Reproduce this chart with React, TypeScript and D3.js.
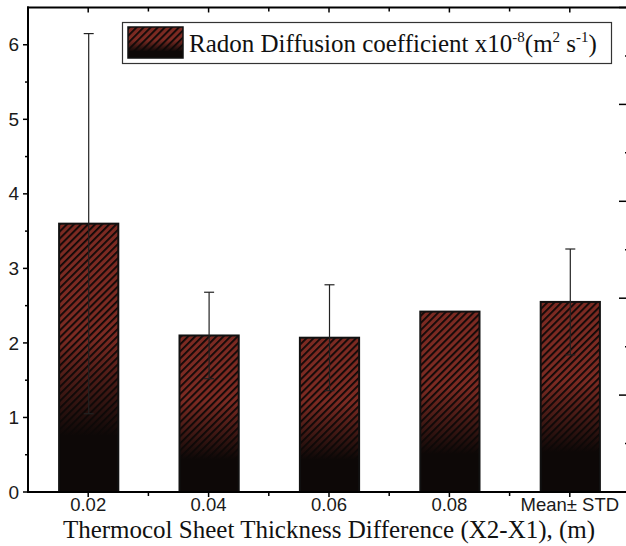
import React, { useEffect, useRef } from 'react';
import * as d3 from 'd3';

// Radon diffusion coefficient by thermocol sheet thickness difference
const categories = ['0.02', '0.04', '0.06', '0.08', 'Mean\u00b1 STD'];
const diffusion = [3.6, 2.1, 2.07, 2.42, 2.55];
const errors: Array<number | null> = [2.55, 0.58, 0.71, null, 0.71];
const leftTicks = [0, 1, 2, 3, 4, 5, 6];

const W = 626;
const H = 546;
const LEFT = 28;
const RIGHT = 630;
const TOP = 7.5;
const BOTTOM = 492;

const RED = '#7c2a22';
const DARK = '#0d0807';

const App: React.FC = () => {
  const svgRef = useRef<SVGSVGElement>(null);

  useEffect(() => {
    if (!svgRef.current) return;
    const svg = d3.select(svgRef.current);
    svg.selectAll('*').remove();

    const x = d3.scaleBand<string>().domain(categories).range([LEFT, RIGHT]).paddingInner(0.5).paddingOuter(0.25);
    const y = d3.scaleLinear().domain([0, 6.5]).range([BOTTOM, TOP]);
    const yR = d3.scaleLinear().domain([0, 5]).range([BOTTOM, TOP]);

    const defs = svg.append('defs');
    const pat = defs
      .append('pattern')
      .attr('id', 'hatch')
      .attr('patternUnits', 'userSpaceOnUse')
      .attr('width', 5)
      .attr('height', 5)
      .attr('patternTransform', 'rotate(45)');
    pat.append('rect').attr('width', 5).attr('height', 5).attr('fill', RED);
    pat.append('rect').attr('width', 1.8).attr('height', 5).attr('fill', DARK);

    const grad = defs
      .append('linearGradient')
      .attr('id', 'fade')
      .attr('x1', 0)
      .attr('y1', 0)
      .attr('x2', 0)
      .attr('y2', 1);
    [
      [0, 0],
      [0.42, 0],
      [0.79, 1],
      [1, 1],
    ].forEach(([o, a]) => grad.append('stop').attr('offset', o).attr('stop-color', DARK).attr('stop-opacity', a));

    // bars
    const bars = svg.append('g');
    categories.forEach((c, i) => {
      const bx = x(c)! + 1;
      const bw = x.bandwidth() - 1;
      const by = y(diffusion[i]);
      const bh = BOTTOM - by;
      bars.append('rect').attr('x', bx).attr('y', by).attr('width', bw).attr('height', bh).attr('fill', 'url(#hatch)');
      bars.append('rect').attr('x', bx).attr('y', by).attr('width', bw).attr('height', bh).attr('fill', 'url(#fade)');
      bars
        .append('rect')
        .attr('x', bx)
        .attr('y', by)
        .attr('width', bw)
        .attr('height', bh)
        .attr('fill', 'none')
        .attr('stroke', '#111')
        .attr('stroke-width', 2);
    });

    // error bars
    const eb = svg.append('g').attr('stroke', '#222').attr('stroke-width', 1.2);
    categories.forEach((c, i) => {
      const e = errors[i];
      if (e == null) return;
      const cx = x(c)! + x.bandwidth() / 2 + 0.5;
      const lo = y(diffusion[i] - e);
      const hi = y(diffusion[i] + e);
      eb.append('line').attr('x1', cx).attr('x2', cx).attr('y1', lo).attr('y2', hi);
      [lo, hi].forEach((v) => eb.append('line').attr('x1', cx - 5).attr('x2', cx + 5).attr('y1', v).attr('y2', v));
    });

    // frame
    const frame = svg.append('g').attr('stroke', '#000').attr('stroke-width', 2).attr('fill', 'none');
    frame.append('line').attr('x1', LEFT).attr('x2', LEFT).attr('y1', TOP - 1).attr('y2', BOTTOM + 1);
    frame.append('line').attr('x1', LEFT - 1).attr('x2', W).attr('y1', TOP).attr('y2', TOP);
    frame.append('line').attr('x1', LEFT - 1).attr('x2', W).attr('y1', BOTTOM).attr('y2', BOTTOM);
    frame.append('line').attr('x1', RIGHT).attr('x2', RIGHT).attr('y1', TOP).attr('y2', BOTTOM);

    // left axis ticks (outward) with minor
    const ticks = svg.append('g').attr('stroke', '#000').attr('stroke-width', 1.5);
    d3.range(0, 6.01, 0.5).forEach((v) => {
      const major = Number.isInteger(v);
      ticks
        .append('line')
        .attr('x1', LEFT - (major ? 5 : 3))
        .attr('x2', LEFT)
        .attr('y1', y(v))
        .attr('y2', y(v));
    });
    // right axis ticks (inward)
    d3.range(0.5, 5.01, 0.5).forEach((v) => {
      const major = Number.isInteger(v);
      ticks
        .append('line')
        .attr('x1', RIGHT - (major ? 11 : 5))
        .attr('x2', RIGHT)
        .attr('y1', yR(v))
        .attr('y2', yR(v));
    });
    // x ticks: major at centres, minor at band edges
    const step = x.step();
    categories.forEach((c) => {
      const cx = x(c)! + x.bandwidth() / 2;
      ticks.append('line').attr('x1', cx).attr('x2', cx).attr('y1', BOTTOM).attr('y2', BOTTOM + 5);
      ticks.append('line').attr('x1', cx).attr('x2', cx).attr('y1', TOP).attr('y2', TOP + 5);
      const ex = cx + step / 2;
      if (ex < W) {
        ticks.append('line').attr('x1', ex).attr('x2', ex).attr('y1', BOTTOM).attr('y2', BOTTOM + 4);
        ticks.append('line').attr('x1', ex).attr('x2', ex).attr('y1', TOP).attr('y2', TOP + 4);
      }
    });

    // tick labels
    const sans = "'Liberation Sans', Arial, sans-serif";
    svg
      .append('g')
      .selectAll('text')
      .data(leftTicks)
      .enter()
      .append('text')
      .attr('x', LEFT - 9)
      .attr('y', (d) => y(d))
      .attr('dy', '0.35em')
      .attr('text-anchor', 'end')
      .attr('font-family', sans)
      .attr('font-size', 19)
      .attr('fill', '#1a1a1a')
      .text((d) => d);
    svg
      .append('g')
      .selectAll('text')
      .data(categories)
      .enter()
      .append('text')
      .attr('x', (d) => x(d)! + x.bandwidth() / 2)
      .attr('y', 511)
      .attr('text-anchor', 'middle')
      .attr('font-family', sans)
      .attr('font-size', 18.5)
      .attr('fill', '#1a1a1a')
      .text((d) => d);

    const serif = "'Liberation Serif', 'Times New Roman', serif";
    svg
      .append('text')
      .attr('x', 329)
      .attr('y', 538)
      .attr('text-anchor', 'middle')
      .attr('font-family', serif)
      .attr('font-size', 25)
      .attr('fill', '#111')
      .text('Thermocol Sheet Thickness Difference (X2-X1), (m)');

    // legend
    const lg = svg.append('g');
    lg.append('rect').attr('x', 122.5).attr('y', 22.5).attr('width', 489).attr('height', 41).attr('fill', '#fff').attr('stroke', '#333').attr('stroke-width', 1.2);
    lg.append('rect').attr('x', 128).attr('y', 27).attr('width', 55).attr('height', 31).attr('fill', 'url(#hatch)');
    lg.append('rect').attr('x', 128).attr('y', 27).attr('width', 55).attr('height', 31).attr('fill', 'url(#fade)');
    lg.append('rect').attr('x', 128).attr('y', 27).attr('width', 55).attr('height', 31).attr('fill', 'none').attr('stroke', '#111').attr('stroke-width', 1.5);
    const lt = lg
      .append('text')
      .attr('x', 189)
      .attr('y', 52)
      .attr('font-family', serif)
      .attr('font-size', 25)
      .attr('fill', '#111');
    lt.append('tspan').text('Radon Diffusion coefficient x10');
    lt.append('tspan').attr('font-size', 15).attr('dy', -10).text('-8');
    lt.append('tspan').attr('dy', 10).text('(m');
    lt.append('tspan').attr('font-size', 15).attr('dy', -10).text('2');
    lt.append('tspan').attr('dy', 10).text(' s');
    lt.append('tspan').attr('font-size', 15).attr('dy', -10).text('-1');
    lt.append('tspan').attr('dy', 10).text(')');
  }, []);

  return (
    <svg
      ref={svgRef}
      width={W}
      height={H}
      style={{ position: 'absolute', top: 0, left: 0, background: '#fff' }}
    />
  );
};

export default App;
